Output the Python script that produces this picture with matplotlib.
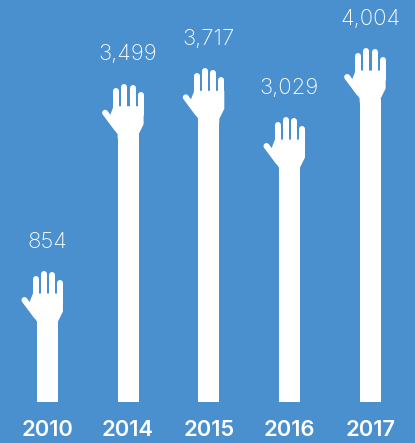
import matplotlib
matplotlib.use("Agg")
import matplotlib.pyplot as plt
from matplotlib.patches import Polygon
from matplotlib.transforms import Affine2D, ScaledTranslation

years = ["2010", "2014", "2015", "2016", "2017"]
counts = [854, 3499, 3717, 3029, 4004]
count_labels = ["854", "3,499", "3,717", "3,029", "4,004"]

BLUE = "#4a90ce"
PX_PER_COUNT = 0.0708
DPI = 100

# arm bases sit a short stub below zero so the smallest hand still has an arm
ARM_BASE = -20 / PX_PER_COUNT
FLOOR_PX = 41
FIG_H = 443

# hand outline in pixels, origin at the top centre of the arm, y up
FINGERS = [(-11.7, 43), (-3.8, 47.5), (4.7, 46.3), (12.7, 39)]
THUMB = [(-23, 21.5), (-11, 5.5)]
PALM = [(-14.5, 28), (15.5, 28), (15.5, 10), (10.5, 0), (10.5, -4), (-10.5, -4), (-10.5, 0), (-20, 14)]
FINGER_W = 6.0


def draw_hand(ax, x, y):
    place = ScaledTranslation(x, y, ax.transData)
    lw = FINGER_W * 72 / DPI
    ax.add_patch(Polygon(PALM, closed=True, fc="white", ec="none", transform=Affine2D() + place))
    for fx, ftop in FINGERS:
        ax.plot([fx, fx], [ftop, 20], color="white", lw=lw, solid_capstyle="round",
                transform=Affine2D() + place)
    ax.plot([p[0] for p in THUMB], [p[1] for p in THUMB], color="white", lw=lw,
            solid_capstyle="round", transform=Affine2D() + place)


def main():
    fig = plt.figure(figsize=(4.15, 4.43), dpi=DPI, facecolor=BLUE)
    ax = fig.add_axes([0, 0, 1, 1])
    ax.set_facecolor(BLUE)
    ax.set_xlim(-0.588, 4.556)
    ax.set_ylim(ARM_BASE - FLOOR_PX / PX_PER_COUNT,
                ARM_BASE + (FIG_H - FLOOR_PX) / PX_PER_COUNT)
    ax.axis("off")

    xs = list(range(len(years)))
    ax.bar(xs, [c - ARM_BASE for c in counts], bottom=ARM_BASE, width=21 / 80.7, color="white")

    for x, c, year, label in zip(xs, counts, years, count_labels):
        draw_hand(ax, x, c)
        ax.annotate(label, (x, c), xytext=(0, 49 + 31), textcoords="offset pixels",
                    ha="center", va="center", color="white", fontsize=16,
                    family="Inter", fontweight="light")
        ax.annotate(year, (x, ARM_BASE), xytext=(0, -28), textcoords="offset pixels",
                    ha="center", va="center", color="white", fontsize=15.8,
                    family="Inter", fontweight="semibold")

    fig.savefig("out.png", dpi=DPI, facecolor=BLUE)
    plt.close(fig)


if __name__ == "__main__":
    main()
